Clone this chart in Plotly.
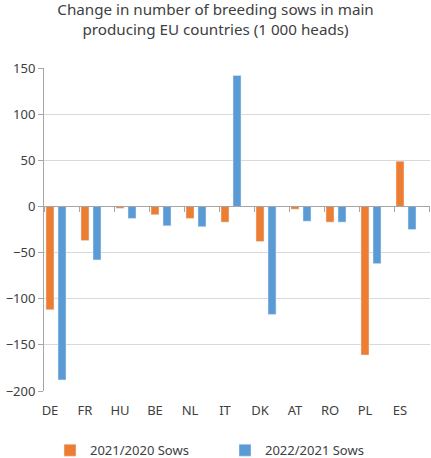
import plotly.graph_objects as go

# data (1 000 heads)
countries = ["DE", "FR", "HU", "BE", "NL", "IT", "DK", "AT", "RO", "PL", "ES"]
sows_2021_2020 = [-112, -37, -2, -9, -13, -17, -38, -3, -17, -161, 49]
sows_2022_2021 = [-188, -58, -13, -21, -22, 142, -117, -16, -17, -62, -25]

pos = list(range(len(countries)))
bar_w = 0.229
edge = -0.171  # left edge of each category band relative to its label

fig = go.Figure()
fig.add_trace(go.Bar(x=pos, y=sows_2021_2020, name="2021/2020 Sows",
                     marker_color="#ED7D31", width=bar_w, offset=-bar_w / 2))
fig.add_trace(go.Bar(x=pos, y=sows_2022_2021, name="2022/2021 Sows",
                     marker_color="#5B9BD5", width=bar_w, offset=bar_w))

xrange = [edge, len(countries) - 0.143]

fig.update_layout(
    width=431, height=458,
    margin=dict(l=44, r=1, t=68, b=67, autoexpand=False),
    paper_bgcolor="white", plot_bgcolor="white",
    font=dict(family="Noto Sans", size=13, color="#404040"),
    title=dict(text="Change in number of breeding sows in main<br>producing EU countries (1 000 heads)",
               x=0.5, xanchor="center", y=1 - 15 / 458, yanchor="middle",
               font=dict(size=15.2, color="#404040")),
    showlegend=True,
    legend=dict(orientation="h", x=0.5 - 12 / 386, xanchor="center", y=-0.137, yanchor="top",
                entrywidth=130, font=dict(size=13)),
    xaxis=dict(range=xrange, tickmode="array", tickvals=pos, ticktext=countries,
               ticks="", showgrid=False, zeroline=False, showline=False,
               ticklabelstandoff=10, automargin=False),
    xaxis2=dict(range=xrange, overlaying="x", anchor="free", position=200 / 350,
                tickmode="array", tickvals=[edge + i for i in range(len(countries) + 1)],
                ticks="outside", ticklen=5, tickcolor="#a6a6a6",
                showticklabels=False, showgrid=False, zeroline=False,
                showline=True, linecolor="#a6a6a6", linewidth=1, automargin=False),
    yaxis=dict(range=[-200, 150], dtick=50, showgrid=True, gridcolor="#d9d9d9",
               zeroline=False, showline=True, linecolor="#a6a6a6",
               ticks="outside", ticklen=5, tickcolor="#a6a6a6", automargin=False),
)
fig.add_trace(go.Scatter(x=[None], y=[None], xaxis="x2", showlegend=False, hoverinfo="skip"))

fig.write_html("out.html", config={"displayModeBar": False},
               post_script="document.body.style.margin='0';")
